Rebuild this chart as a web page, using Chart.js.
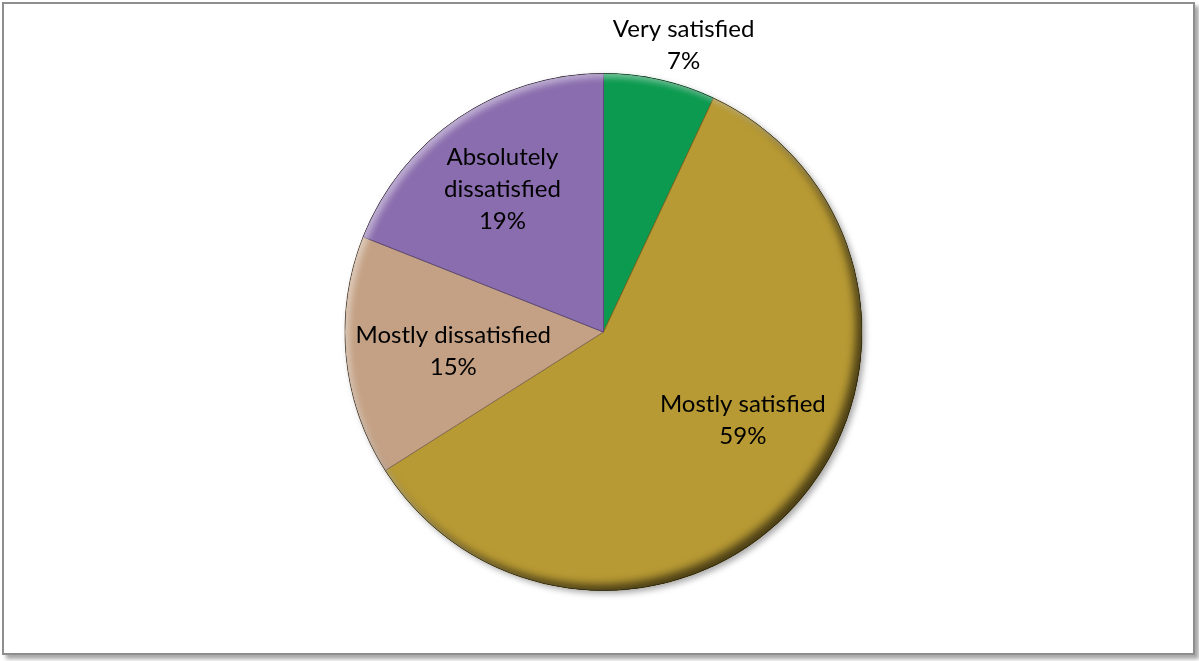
<!DOCTYPE html>
<html>
<head>
<meta charset="utf-8">
<script src="https://cdn.jsdelivr.net/npm/chart.js@4.4.1/dist/chart.umd.min.js"></script>
<style>
  html, body { margin: 0; padding: 0; background: #fff; }
  #frame { position: absolute; left: 2px; top: 2px; width: 1189px; height: 649px;
           border: 2px solid #8e8e8e; background: #fff;
           box-shadow: 4px 4px 4px rgba(0,0,0,0.35); }
  #wrap { position: absolute; left: 0; top: 0; width: 1199px; height: 661px; }
</style>
</head>
<body>
<div id="frame"></div>
<div id="wrap"><canvas id="c"></canvas></div>
<script>
const categories = ["Very satisfied", "Mostly satisfied", "Mostly dissatisfied", "Absolutely dissatisfied"];
const labelLines = [["Very satisfied"], ["Mostly satisfied"], ["Mostly dissatisfied"], ["Absolutely", "dissatisfied"]];
const values = [7, 59, 15, 19];
const colors = ["#0b9a4f", "#b89a34", "#c4a184", "#8a6dae"];
const edgeColors = ["#076b36", "#7d6a22", "#8a705a", "#5e4a78"];
// label block centres, as fractions of the radius, relative to the pie centre
const labelOffsets = [[0.31, -1.109], [0.539, 0.341], [-0.581, 0.074], [-0.391, -0.554]];

const bevelPlugin = {
  id: 'bevel',
  beforeDatasetsDraw(chart) {
    const arc = chart.getDatasetMeta(0).data[0];
    if (!arc) return;
    const ctx = chart.ctx;
    ctx.save();
    ctx.shadowColor = 'rgba(0,0,0,0.35)';
    ctx.shadowBlur = 6;
    ctx.shadowOffsetX = 3;
    ctx.shadowOffsetY = 3;
    ctx.beginPath();
    ctx.arc(arc.x, arc.y, arc.outerRadius, 0, Math.PI * 2);
    ctx.fillStyle = '#b89a34';
    ctx.fill();
    ctx.restore();
  },
  afterDatasetsDraw(chart) {
    const meta = chart.getDatasetMeta(0);
    const arc = meta.data[0];
    if (!arc) return;
    const ctx = chart.ctx;
    const cx = arc.x, cy = arc.y, r = arc.outerRadius;
    // inner shadows (bevel)
    ctx.save();
    ctx.beginPath();
    ctx.arc(cx, cy, r, 0, Math.PI * 2);
    ctx.clip();
    const ring = (col, ox, oy, blur) => {
      ctx.save();
      ctx.shadowColor = col;
      ctx.shadowBlur = blur;
      ctx.shadowOffsetX = ox;
      ctx.shadowOffsetY = oy;
      ctx.beginPath();
      ctx.arc(cx, cy, r + 60, 0, Math.PI * 2);
      ctx.arc(cx, cy, r, 0, Math.PI * 2, true);
      ctx.fillStyle = 'rgba(0,0,0,1)';
      ctx.fill();
      ctx.restore();
    };
    ring('rgba(0,0,0,0.6)', -6, -6, 8);
    ring('rgba(255,255,255,0.45)', 4, 4, 6);
    ctx.restore();

    // labels
    ctx.save();
    ctx.fillStyle = '#000';
    ctx.font = '24px Lato, "Open Sans", sans-serif';
    ctx.textAlign = 'center';
    ctx.textBaseline = 'middle';
    const lh = 32;
    meta.data.forEach((a, i) => {
      const lines = labelLines[i].concat([values[i] + '%']);
      const bx = cx + labelOffsets[i][0] * r;
      const by = cy + labelOffsets[i][1] * r;
      const top = by - (lines.length - 1) * lh / 2;
      lines.forEach((t, k) => ctx.fillText(t, bx, top + k * lh));
    });
    ctx.restore();
  }
};

new Chart(document.getElementById('c'), {
  type: 'pie',
  data: {
    labels: categories,
    datasets: [{
      data: values,
      backgroundColor: colors,
      borderColor: edgeColors,
      borderWidth: 1
    }]
  },
  options: {
    responsive: true,
    maintainAspectRatio: false,
    animation: false,
    layout: { padding: { left: 8, right: 0, top: 73, bottom: 70 } },
    plugins: { legend: { display: false }, tooltip: { enabled: false } }
  },
  plugins: [bevelPlugin]
});
</script>
</body>
</html>
